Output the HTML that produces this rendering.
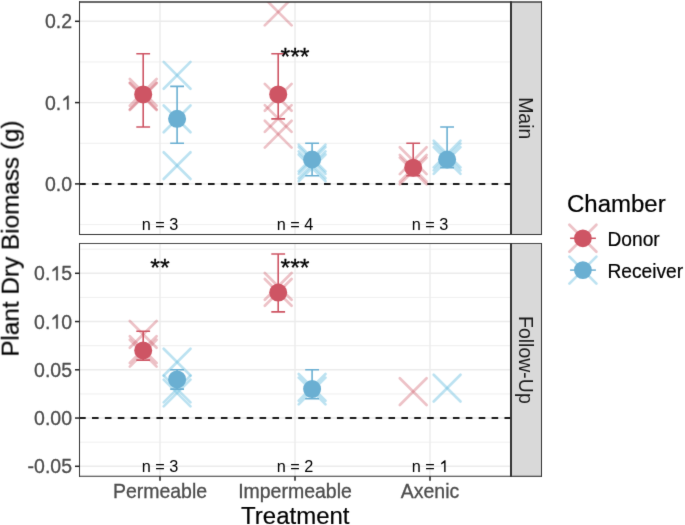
<!DOCTYPE html>
<html><head><meta charset="utf-8"><style>
html,body{margin:0;padding:0;background:#fff;}
svg{display:block;}
#w{width:685px;height:525px;overflow:hidden;will-change:transform;}
text{font-family:"Liberation Sans", sans-serif;}
</style></head><body>
<div id="w"><svg width="685" height="525" viewBox="0 0 685 525">
<defs>
<filter id="soft" filterUnits="userSpaceOnUse" x="0" y="0" width="685" height="525" color-interpolation-filters="sRGB"><feConvolveMatrix order="3" kernelMatrix="0.01 0.07 0.01 0.07 0.68 0.07 0.01 0.07 0.01" divisor="1" edgeMode="duplicate"/></filter>
<clipPath id="c1"><rect x="79.5" y="2.0" width="431.0" height="232.5"/></clipPath>
<clipPath id="c2"><rect x="79.5" y="243.5" width="431.0" height="232.8"/></clipPath>
</defs>
<g filter="url(#soft)">
<rect width="685" height="525" fill="#fff"/>
<g clip-path="url(#c1)">
<line x1="79.5" x2="510.5" y1="61.95" y2="61.95" stroke="#EBEBEB" stroke-width="0.8"/>
<line x1="79.5" x2="510.5" y1="143.25" y2="143.25" stroke="#EBEBEB" stroke-width="0.8"/>
<line x1="79.5" x2="510.5" y1="224.55" y2="224.55" stroke="#EBEBEB" stroke-width="0.8"/>
<line x1="79.5" x2="510.5" y1="21.30" y2="21.30" stroke="#EBEBEB" stroke-width="1.4"/>
<line x1="79.5" x2="510.5" y1="102.60" y2="102.60" stroke="#EBEBEB" stroke-width="1.4"/>
<line x1="79.5" x2="510.5" y1="183.90" y2="183.90" stroke="#EBEBEB" stroke-width="1.4"/>
<line x1="160.0" x2="160.0" y1="2.0" y2="234.5" stroke="#EBEBEB" stroke-width="1.4"/>
<line x1="295.0" x2="295.0" y1="2.0" y2="234.5" stroke="#EBEBEB" stroke-width="1.4"/>
<line x1="430.0" x2="430.0" y1="2.0" y2="234.5" stroke="#EBEBEB" stroke-width="1.4"/>
<line x1="79.5" x2="510.5" y1="184.0" y2="184.0" stroke="#1a1a1a" stroke-width="2" stroke-dasharray="6.6 6.29" stroke-dashoffset="0.39"/>
<path d="M129.80 79.00L156.60 105.80" stroke="#CE5564" stroke-opacity="0.36" stroke-width="2.7" fill="none" stroke-linecap="round"/>
<path d="M129.80 105.80L156.60 79.00" stroke="#CE5564" stroke-opacity="0.36" stroke-width="2.7" fill="none" stroke-linecap="round"/>
<path d="M129.80 82.60L156.60 109.40" stroke="#CE5564" stroke-opacity="0.36" stroke-width="2.7" fill="none" stroke-linecap="round"/>
<path d="M129.80 109.40L156.60 82.60" stroke="#CE5564" stroke-opacity="0.36" stroke-width="2.7" fill="none" stroke-linecap="round"/>
<path d="M129.80 83.20L156.60 110.00" stroke="#CE5564" stroke-opacity="0.36" stroke-width="2.7" fill="none" stroke-linecap="round"/>
<path d="M129.80 110.00L156.60 83.20" stroke="#CE5564" stroke-opacity="0.36" stroke-width="2.7" fill="none" stroke-linecap="round"/>
<path d="M163.70 61.90L190.50 88.70" stroke="#6EC0E0" stroke-opacity="0.46" stroke-width="2.7" fill="none" stroke-linecap="round"/>
<path d="M163.70 88.70L190.50 61.90" stroke="#6EC0E0" stroke-opacity="0.46" stroke-width="2.7" fill="none" stroke-linecap="round"/>
<path d="M163.70 105.50L190.50 132.30" stroke="#6EC0E0" stroke-opacity="0.46" stroke-width="2.7" fill="none" stroke-linecap="round"/>
<path d="M163.70 132.30L190.50 105.50" stroke="#6EC0E0" stroke-opacity="0.46" stroke-width="2.7" fill="none" stroke-linecap="round"/>
<path d="M163.70 152.20L190.50 179.00" stroke="#6EC0E0" stroke-opacity="0.46" stroke-width="2.7" fill="none" stroke-linecap="round"/>
<path d="M163.70 179.00L190.50 152.20" stroke="#6EC0E0" stroke-opacity="0.46" stroke-width="2.7" fill="none" stroke-linecap="round"/>
<path d="M264.80 -1.40L291.60 25.40" stroke="#CE5564" stroke-opacity="0.36" stroke-width="2.7" fill="none" stroke-linecap="round"/>
<path d="M264.80 25.40L291.60 -1.40" stroke="#CE5564" stroke-opacity="0.36" stroke-width="2.7" fill="none" stroke-linecap="round"/>
<path d="M264.80 83.90L291.60 110.70" stroke="#CE5564" stroke-opacity="0.36" stroke-width="2.7" fill="none" stroke-linecap="round"/>
<path d="M264.80 110.70L291.60 83.90" stroke="#CE5564" stroke-opacity="0.36" stroke-width="2.7" fill="none" stroke-linecap="round"/>
<path d="M264.80 105.10L291.60 131.90" stroke="#CE5564" stroke-opacity="0.36" stroke-width="2.7" fill="none" stroke-linecap="round"/>
<path d="M264.80 131.90L291.60 105.10" stroke="#CE5564" stroke-opacity="0.36" stroke-width="2.7" fill="none" stroke-linecap="round"/>
<path d="M264.80 120.80L291.60 147.60" stroke="#CE5564" stroke-opacity="0.36" stroke-width="2.7" fill="none" stroke-linecap="round"/>
<path d="M264.80 147.60L291.60 120.80" stroke="#CE5564" stroke-opacity="0.36" stroke-width="2.7" fill="none" stroke-linecap="round"/>
<path d="M298.70 144.60L325.50 171.40" stroke="#6EC0E0" stroke-opacity="0.46" stroke-width="2.7" fill="none" stroke-linecap="round"/>
<path d="M298.70 171.40L325.50 144.60" stroke="#6EC0E0" stroke-opacity="0.46" stroke-width="2.7" fill="none" stroke-linecap="round"/>
<path d="M298.70 147.10L325.50 173.90" stroke="#6EC0E0" stroke-opacity="0.46" stroke-width="2.7" fill="none" stroke-linecap="round"/>
<path d="M298.70 173.90L325.50 147.10" stroke="#6EC0E0" stroke-opacity="0.46" stroke-width="2.7" fill="none" stroke-linecap="round"/>
<path d="M298.70 151.40L325.50 178.20" stroke="#6EC0E0" stroke-opacity="0.46" stroke-width="2.7" fill="none" stroke-linecap="round"/>
<path d="M298.70 178.20L325.50 151.40" stroke="#6EC0E0" stroke-opacity="0.46" stroke-width="2.7" fill="none" stroke-linecap="round"/>
<path d="M298.70 154.50L325.50 181.30" stroke="#6EC0E0" stroke-opacity="0.46" stroke-width="2.7" fill="none" stroke-linecap="round"/>
<path d="M298.70 181.30L325.50 154.50" stroke="#6EC0E0" stroke-opacity="0.46" stroke-width="2.7" fill="none" stroke-linecap="round"/>
<path d="M399.80 147.30L426.60 174.10" stroke="#CE5564" stroke-opacity="0.36" stroke-width="2.7" fill="none" stroke-linecap="round"/>
<path d="M399.80 174.10L426.60 147.30" stroke="#CE5564" stroke-opacity="0.36" stroke-width="2.7" fill="none" stroke-linecap="round"/>
<path d="M399.80 154.90L426.60 181.70" stroke="#CE5564" stroke-opacity="0.36" stroke-width="2.7" fill="none" stroke-linecap="round"/>
<path d="M399.80 181.70L426.60 154.90" stroke="#CE5564" stroke-opacity="0.36" stroke-width="2.7" fill="none" stroke-linecap="round"/>
<path d="M399.80 157.60L426.60 184.40" stroke="#CE5564" stroke-opacity="0.36" stroke-width="2.7" fill="none" stroke-linecap="round"/>
<path d="M399.80 184.40L426.60 157.60" stroke="#CE5564" stroke-opacity="0.36" stroke-width="2.7" fill="none" stroke-linecap="round"/>
<path d="M433.70 140.60L460.50 167.40" stroke="#6EC0E0" stroke-opacity="0.46" stroke-width="2.7" fill="none" stroke-linecap="round"/>
<path d="M433.70 167.40L460.50 140.60" stroke="#6EC0E0" stroke-opacity="0.46" stroke-width="2.7" fill="none" stroke-linecap="round"/>
<path d="M433.70 143.60L460.50 170.40" stroke="#6EC0E0" stroke-opacity="0.46" stroke-width="2.7" fill="none" stroke-linecap="round"/>
<path d="M433.70 170.40L460.50 143.60" stroke="#6EC0E0" stroke-opacity="0.46" stroke-width="2.7" fill="none" stroke-linecap="round"/>
<path d="M433.70 147.10L460.50 173.90" stroke="#6EC0E0" stroke-opacity="0.46" stroke-width="2.7" fill="none" stroke-linecap="round"/>
<path d="M433.70 173.90L460.50 147.10" stroke="#6EC0E0" stroke-opacity="0.46" stroke-width="2.7" fill="none" stroke-linecap="round"/>
<path d="M136.30 53.82H150.10M143.20 53.82V126.99M136.30 126.99H150.10" stroke="#CE5564" stroke-width="1.6" fill="none"/>
<circle cx="143.20" cy="94.47" r="9.0" fill="#CE5564"/>
<path d="M170.20 86.34H184.00M177.10 86.34V143.25M170.20 143.25H184.00" stroke="#6AAFD2" stroke-width="1.6" fill="none"/>
<circle cx="177.10" cy="118.86" r="9.0" fill="#6AAFD2"/>
<path d="M271.30 53.82H285.10M278.20 53.82V118.86M271.30 118.86H285.10" stroke="#CE5564" stroke-width="1.6" fill="none"/>
<circle cx="278.20" cy="94.47" r="9.0" fill="#CE5564"/>
<path d="M305.20 143.25H319.00M312.10 143.25V175.77M305.20 175.77H319.00" stroke="#6AAFD2" stroke-width="1.6" fill="none"/>
<circle cx="312.10" cy="159.51" r="9.0" fill="#6AAFD2"/>
<path d="M406.30 143.25H420.10M413.20 143.25V175.77M406.30 175.77H420.10" stroke="#CE5564" stroke-width="1.6" fill="none"/>
<circle cx="413.20" cy="167.64" r="9.0" fill="#CE5564"/>
<path d="M440.20 126.99H454.00M447.10 126.99V167.64M440.20 167.64H454.00" stroke="#6AAFD2" stroke-width="1.6" fill="none"/>
<circle cx="447.10" cy="159.51" r="9.0" fill="#6AAFD2"/>
<text transform="translate(160.00 230.00) scale(1 1.035)" font-size="16.3" fill="#000" text-anchor="middle" >n = 3</text>
<text transform="translate(295.00 230.00) scale(1 1.035)" font-size="16.3" fill="#000" text-anchor="middle" >n = 4</text>
<text transform="translate(430.00 230.00) scale(1 1.035)" font-size="16.3" fill="#000" text-anchor="middle" >n = 3</text>
<text transform="translate(295.00 65.00) scale(1 0.97)" font-size="25" fill="#000" text-anchor="middle" stroke="#000" stroke-width="0.3">***</text>
</g>
<line x1="79.0" x2="511.0" y1="2.0" y2="2.0" stroke="#333" stroke-width="1.4"/>
<line x1="79.0" x2="511.0" y1="234.5" y2="234.5" stroke="#333" stroke-width="1.0"/>
<line x1="79.5" x2="79.5" y1="1.3" y2="235.0" stroke="#333" stroke-width="1.0"/>
<line x1="510.5" x2="510.5" y1="1.3" y2="235.0" stroke="#333" stroke-width="1.0"/>
<g clip-path="url(#c2)">
<line x1="79.5" x2="510.5" y1="249.18" y2="249.18" stroke="#EBEBEB" stroke-width="0.8"/>
<line x1="79.5" x2="510.5" y1="297.43" y2="297.43" stroke="#EBEBEB" stroke-width="0.8"/>
<line x1="79.5" x2="510.5" y1="345.68" y2="345.68" stroke="#EBEBEB" stroke-width="0.8"/>
<line x1="79.5" x2="510.5" y1="393.93" y2="393.93" stroke="#EBEBEB" stroke-width="0.8"/>
<line x1="79.5" x2="510.5" y1="442.18" y2="442.18" stroke="#EBEBEB" stroke-width="0.8"/>
<line x1="79.5" x2="510.5" y1="273.30" y2="273.30" stroke="#EBEBEB" stroke-width="1.4"/>
<line x1="79.5" x2="510.5" y1="321.55" y2="321.55" stroke="#EBEBEB" stroke-width="1.4"/>
<line x1="79.5" x2="510.5" y1="369.80" y2="369.80" stroke="#EBEBEB" stroke-width="1.4"/>
<line x1="79.5" x2="510.5" y1="418.05" y2="418.05" stroke="#EBEBEB" stroke-width="1.4"/>
<line x1="79.5" x2="510.5" y1="466.30" y2="466.30" stroke="#EBEBEB" stroke-width="1.4"/>
<line x1="160.0" x2="160.0" y1="243.5" y2="476.3" stroke="#EBEBEB" stroke-width="1.4"/>
<line x1="295.0" x2="295.0" y1="243.5" y2="476.3" stroke="#EBEBEB" stroke-width="1.4"/>
<line x1="430.0" x2="430.0" y1="243.5" y2="476.3" stroke="#EBEBEB" stroke-width="1.4"/>
<line x1="79.5" x2="510.5" y1="418.0" y2="418.0" stroke="#1a1a1a" stroke-width="2" stroke-dasharray="6.6 6.29" stroke-dashoffset="0.39"/>
<path d="M129.80 321.00L156.60 347.80" stroke="#CE5564" stroke-opacity="0.36" stroke-width="2.7" fill="none" stroke-linecap="round"/>
<path d="M129.80 347.80L156.60 321.00" stroke="#CE5564" stroke-opacity="0.36" stroke-width="2.7" fill="none" stroke-linecap="round"/>
<path d="M129.80 336.20L156.60 363.00" stroke="#CE5564" stroke-opacity="0.36" stroke-width="2.7" fill="none" stroke-linecap="round"/>
<path d="M129.80 363.00L156.60 336.20" stroke="#CE5564" stroke-opacity="0.36" stroke-width="2.7" fill="none" stroke-linecap="round"/>
<path d="M129.80 339.80L156.60 366.60" stroke="#CE5564" stroke-opacity="0.36" stroke-width="2.7" fill="none" stroke-linecap="round"/>
<path d="M129.80 366.60L156.60 339.80" stroke="#CE5564" stroke-opacity="0.36" stroke-width="2.7" fill="none" stroke-linecap="round"/>
<path d="M163.70 348.70L190.50 375.50" stroke="#6EC0E0" stroke-opacity="0.46" stroke-width="2.7" fill="none" stroke-linecap="round"/>
<path d="M163.70 375.50L190.50 348.70" stroke="#6EC0E0" stroke-opacity="0.46" stroke-width="2.7" fill="none" stroke-linecap="round"/>
<path d="M163.70 375.60L190.50 402.40" stroke="#6EC0E0" stroke-opacity="0.46" stroke-width="2.7" fill="none" stroke-linecap="round"/>
<path d="M163.70 402.40L190.50 375.60" stroke="#6EC0E0" stroke-opacity="0.46" stroke-width="2.7" fill="none" stroke-linecap="round"/>
<path d="M163.70 379.60L190.50 406.40" stroke="#6EC0E0" stroke-opacity="0.46" stroke-width="2.7" fill="none" stroke-linecap="round"/>
<path d="M163.70 406.40L190.50 379.60" stroke="#6EC0E0" stroke-opacity="0.46" stroke-width="2.7" fill="none" stroke-linecap="round"/>
<path d="M264.80 273.00L291.60 299.80" stroke="#CE5564" stroke-opacity="0.36" stroke-width="2.7" fill="none" stroke-linecap="round"/>
<path d="M264.80 299.80L291.60 273.00" stroke="#CE5564" stroke-opacity="0.36" stroke-width="2.7" fill="none" stroke-linecap="round"/>
<path d="M264.80 279.00L291.60 305.80" stroke="#CE5564" stroke-opacity="0.36" stroke-width="2.7" fill="none" stroke-linecap="round"/>
<path d="M264.80 305.80L291.60 279.00" stroke="#CE5564" stroke-opacity="0.36" stroke-width="2.7" fill="none" stroke-linecap="round"/>
<path d="M298.70 374.00L325.50 400.80" stroke="#6EC0E0" stroke-opacity="0.46" stroke-width="2.7" fill="none" stroke-linecap="round"/>
<path d="M298.70 400.80L325.50 374.00" stroke="#6EC0E0" stroke-opacity="0.46" stroke-width="2.7" fill="none" stroke-linecap="round"/>
<path d="M298.70 377.60L325.50 404.40" stroke="#6EC0E0" stroke-opacity="0.46" stroke-width="2.7" fill="none" stroke-linecap="round"/>
<path d="M298.70 404.40L325.50 377.60" stroke="#6EC0E0" stroke-opacity="0.46" stroke-width="2.7" fill="none" stroke-linecap="round"/>
<path d="M399.80 378.20L426.60 405.00" stroke="#CE5564" stroke-opacity="0.36" stroke-width="2.7" fill="none" stroke-linecap="round"/>
<path d="M399.80 405.00L426.60 378.20" stroke="#CE5564" stroke-opacity="0.36" stroke-width="2.7" fill="none" stroke-linecap="round"/>
<path d="M433.70 374.70L460.50 401.50" stroke="#6EC0E0" stroke-opacity="0.46" stroke-width="2.7" fill="none" stroke-linecap="round"/>
<path d="M433.70 401.50L460.50 374.70" stroke="#6EC0E0" stroke-opacity="0.46" stroke-width="2.7" fill="none" stroke-linecap="round"/>
<path d="M136.30 331.20H150.10M143.20 331.20V360.15M136.30 360.15H150.10" stroke="#CE5564" stroke-width="1.6" fill="none"/>
<circle cx="143.20" cy="350.50" r="9.0" fill="#CE5564"/>
<path d="M170.20 369.80H184.00M177.10 369.80V389.10M170.20 389.10H184.00" stroke="#6AAFD2" stroke-width="1.6" fill="none"/>
<circle cx="177.10" cy="379.45" r="9.0" fill="#6AAFD2"/>
<path d="M271.30 254.00H285.10M278.20 254.00V311.90M271.30 311.90H285.10" stroke="#CE5564" stroke-width="1.6" fill="none"/>
<circle cx="278.20" cy="292.60" r="9.0" fill="#CE5564"/>
<path d="M305.20 369.80H319.00M312.10 369.80V398.75M305.20 398.75H319.00" stroke="#6AAFD2" stroke-width="1.6" fill="none"/>
<circle cx="312.10" cy="389.10" r="9.0" fill="#6AAFD2"/>
<text transform="translate(160.00 471.90) scale(1 1.035)" font-size="16.3" fill="#000" text-anchor="middle" >n = 3</text>
<text transform="translate(295.00 471.90) scale(1 1.035)" font-size="16.3" fill="#000" text-anchor="middle" >n = 2</text>
<polygon points="445.56,460.23 445.56,471.90 444.18,471.90 444.18,462.85 441.16,464.48 441.16,463.10 444.63,460.23" fill="#000"/>
<text transform="translate(430.00 471.90) scale(1 1.035)" font-size="16.3" fill="#000" text-anchor="middle" >n =  </text>
<text transform="translate(160.00 276.40) scale(1 0.97)" font-size="25" fill="#000" text-anchor="middle" stroke="#000" stroke-width="0.3">**</text>
<text transform="translate(295.00 276.40) scale(1 0.97)" font-size="25" fill="#000" text-anchor="middle" stroke="#000" stroke-width="0.3">***</text>
</g>
<line x1="79.0" x2="511.0" y1="243.5" y2="243.5" stroke="#333" stroke-width="0.9"/>
<line x1="79.0" x2="511.0" y1="476.3" y2="476.3" stroke="#333" stroke-width="1.1"/>
<line x1="79.5" x2="79.5" y1="243.05" y2="476.85" stroke="#333" stroke-width="1.0"/>
<line x1="510.5" x2="510.5" y1="243.05" y2="476.85" stroke="#333" stroke-width="1.0"/>
<rect x="511.5" y="2.0" width="30.0" height="232.5" fill="#D9D9D9"/>
<line x1="511.0" x2="542.0" y1="2.0" y2="2.0" stroke="#333" stroke-width="1.4"/>
<line x1="511.0" x2="542.0" y1="234.5" y2="234.5" stroke="#333" stroke-width="1.0"/>
<line x1="511.5" x2="511.5" y1="1.3" y2="235.0" stroke="#333" stroke-width="1.0"/>
<line x1="541.5" x2="541.5" y1="1.3" y2="235.0" stroke="#333" stroke-width="1.0"/>
<text transform="translate(519.0 118.25) rotate(90) scale(1 1.035)" x="0" y="0" font-size="19.5" fill="#1A1A1A" text-anchor="middle">Main</text>
<rect x="511.5" y="243.5" width="30.0" height="232.8" fill="#D9D9D9"/>
<line x1="511.0" x2="542.0" y1="243.5" y2="243.5" stroke="#333" stroke-width="0.9"/>
<line x1="511.0" x2="542.0" y1="476.3" y2="476.3" stroke="#333" stroke-width="1.1"/>
<line x1="511.5" x2="511.5" y1="243.05" y2="476.85" stroke="#333" stroke-width="1.0"/>
<line x1="541.5" x2="541.5" y1="243.05" y2="476.85" stroke="#333" stroke-width="1.0"/>
<text transform="translate(519.0 359.90) rotate(90) scale(1 1.035)" x="0" y="0" font-size="19.5" fill="#1A1A1A" text-anchor="middle">Follow-Up</text>
<line x1="75" x2="79.5" y1="21.30" y2="21.30" stroke="#222" stroke-width="1.5"/>
<text transform="translate(72.00 28.30) scale(1 1.035)" font-size="19.5" fill="#4D4D4D" text-anchor="end" stroke="#4D4D4D" stroke-width="0.3">0.2</text>
<line x1="75" x2="79.5" y1="102.60" y2="102.60" stroke="#222" stroke-width="1.5"/>
<polygon points="68.66,95.64 68.66,109.60 67.01,109.60 67.01,98.78 63.40,100.73 63.40,99.07 67.55,95.64" fill="#4D4D4D" stroke="#4D4D4D" stroke-width="0.3" stroke-linejoin="round"/>
<text transform="translate(72.00 109.60) scale(1 1.035)" font-size="19.5" fill="#4D4D4D" text-anchor="end" stroke="#4D4D4D" stroke-width="0.3">0. </text>
<line x1="75" x2="79.5" y1="183.90" y2="183.90" stroke="#222" stroke-width="1.5"/>
<text transform="translate(72.00 190.90) scale(1 1.035)" font-size="19.5" fill="#4D4D4D" text-anchor="end" stroke="#4D4D4D" stroke-width="0.3">0.0</text>
<line x1="75" x2="79.5" y1="273.30" y2="273.30" stroke="#222" stroke-width="1.5"/>
<polygon points="57.82,266.34 57.82,280.30 56.16,280.30 56.16,269.48 52.55,271.43 52.55,269.77 56.71,266.34" fill="#4D4D4D" stroke="#4D4D4D" stroke-width="0.3" stroke-linejoin="round"/>
<text transform="translate(72.00 280.30) scale(1 1.035)" font-size="19.5" fill="#4D4D4D" text-anchor="end" stroke="#4D4D4D" stroke-width="0.3">0. 5</text>
<line x1="75" x2="79.5" y1="321.55" y2="321.55" stroke="#222" stroke-width="1.5"/>
<polygon points="57.82,314.59 57.82,328.55 56.16,328.55 56.16,317.73 52.55,319.68 52.55,318.02 56.71,314.59" fill="#4D4D4D" stroke="#4D4D4D" stroke-width="0.3" stroke-linejoin="round"/>
<text transform="translate(72.00 328.55) scale(1 1.035)" font-size="19.5" fill="#4D4D4D" text-anchor="end" stroke="#4D4D4D" stroke-width="0.3">0. 0</text>
<line x1="75" x2="79.5" y1="369.80" y2="369.80" stroke="#222" stroke-width="1.5"/>
<text transform="translate(72.00 376.80) scale(1 1.035)" font-size="19.5" fill="#4D4D4D" text-anchor="end" stroke="#4D4D4D" stroke-width="0.3">0.05</text>
<line x1="75" x2="79.5" y1="418.05" y2="418.05" stroke="#222" stroke-width="1.5"/>
<text transform="translate(72.00 425.05) scale(1 1.035)" font-size="19.5" fill="#4D4D4D" text-anchor="end" stroke="#4D4D4D" stroke-width="0.3">0.00</text>
<line x1="75" x2="79.5" y1="466.30" y2="466.30" stroke="#222" stroke-width="1.5"/>
<text transform="translate(72.00 473.30) scale(1 1.035)" font-size="19.5" fill="#4D4D4D" text-anchor="end" stroke="#4D4D4D" stroke-width="0.3">-0.05</text>
<line x1="160.0" x2="160.0" y1="476.3" y2="480.7" stroke="#222" stroke-width="1.5"/>
<text transform="translate(160.00 497.70) scale(1 1.035)" font-size="19.5" fill="#4D4D4D" text-anchor="middle" stroke="#4D4D4D" stroke-width="0.3">Permeable</text>
<line x1="295.0" x2="295.0" y1="476.3" y2="480.7" stroke="#222" stroke-width="1.5"/>
<text transform="translate(295.00 497.70) scale(1 1.035)" font-size="19.5" fill="#4D4D4D" text-anchor="middle" stroke="#4D4D4D" stroke-width="0.3">Impermeable</text>
<line x1="430.0" x2="430.0" y1="476.3" y2="480.7" stroke="#222" stroke-width="1.5"/>
<text transform="translate(430.00 497.70) scale(1 1.035)" font-size="19.5" fill="#4D4D4D" text-anchor="middle" stroke="#4D4D4D" stroke-width="0.3">Axenic</text>
<text transform="translate(295.30 523.70) scale(1 1.035)" font-size="24" fill="#000" text-anchor="middle" stroke="#000" stroke-width="0.2">Treatment</text>
<text transform="translate(19.0 238.6) rotate(-90) scale(1 1.015)" x="0" y="0" font-size="24.3" fill="#000" stroke="#000" stroke-width="0.2" text-anchor="middle">Plant Dry Biomass (g)</text>
<text transform="translate(567.00 211.60) scale(1 1.035)" font-size="24" fill="#000" text-anchor="start" stroke="#000" stroke-width="0.2">Chamber</text>
<path d="M569.40 224.80L596.40 251.80" stroke="#CE5564" stroke-opacity="0.36" stroke-width="2.7" fill="none" stroke-linecap="round"/>
<path d="M569.40 251.80L596.40 224.80" stroke="#CE5564" stroke-opacity="0.36" stroke-width="2.7" fill="none" stroke-linecap="round"/>
<line x1="570.1" x2="595.9" y1="238.3" y2="238.3" stroke="#CE5564" stroke-width="1.5"/>
<circle cx="582.90" cy="238.30" r="8.9" fill="#CE5564"/>
<text transform="translate(607.50 245.70) scale(1 1.035)" font-size="19.2" fill="#000" text-anchor="start" stroke="#000" stroke-width="0.2">Donor</text>
<path d="M569.40 256.60L596.40 283.60" stroke="#6EC0E0" stroke-opacity="0.46" stroke-width="2.7" fill="none" stroke-linecap="round"/>
<path d="M569.40 283.60L596.40 256.60" stroke="#6EC0E0" stroke-opacity="0.46" stroke-width="2.7" fill="none" stroke-linecap="round"/>
<line x1="570.1" x2="595.9" y1="270.1" y2="270.1" stroke="#6AAFD2" stroke-width="1.5"/>
<circle cx="582.90" cy="270.10" r="8.9" fill="#6AAFD2"/>
<text transform="translate(607.50 277.50) scale(1 1.035)" font-size="19.2" fill="#000" text-anchor="start" stroke="#000" stroke-width="0.2">Receiver</text>
</g></svg></div></body></html>
